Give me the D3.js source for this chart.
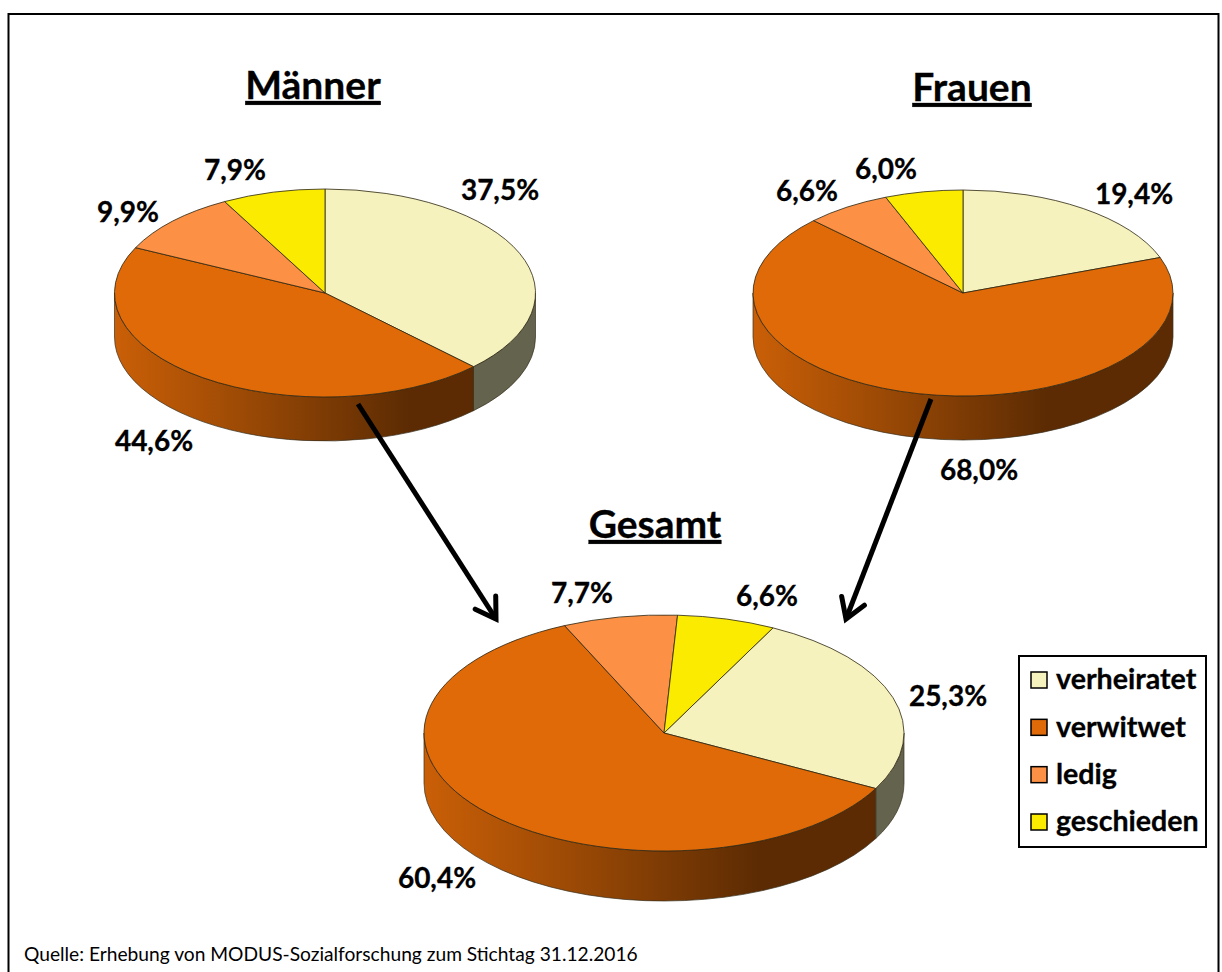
<!DOCTYPE html>
<html><head><meta charset="utf-8">
<script src="https://cdn.jsdelivr.net/npm/d3@7"></script>
<style>
html,body{margin:0;padding:0;background:#fff;overflow:hidden}
svg{display:block}
text{font-family:Lato,"Open Sans",sans-serif;fill:#000}
</style></head><body>
<script>
const categories = ["verheiratet","verwitwet","ledig","geschieden"];
const colours = ["#F5F2BE","#E06A08","#FC9145","#FAEB00"];
const maenner = [37.5,44.6,9.9,7.9];
const frauen = [19.4,68.0,6.6,6.0];
const gesamt = [25.3,60.4,7.7,6.6];
const titles = ["Männer","Frauen","Gesamt"];
const source = "Quelle: Erhebung von MODUS-Sozialforschung zum Stichtag 31.12.2016";

const W=1222,H=972;
const layout = [
 {values:maenner,title:titles[0],cx:325,cy:293,rx:210.5,ry:104,d:44,rot:0,tx:313,ty:99,
  lab:[[500,190],[154,441],[128,212],[235,170]]},
 {values:frauen,title:titles[1],cx:963,cy:293,rx:210,ry:103,d:44,rot:0,tx:972,ty:101,
  lab:[[1134,194],[979,470],[807,191],[886,169]]},
 {values:gesamt,title:titles[2],cx:664,cy:733,rx:240,ry:118,d:50,rot:27,tx:655,ty:538,
  lab:[[948,696],[437,878],[582,593],[767,596]]}
];
const svg=d3.select("body").append("svg").attr("width",W).attr("height",H);
const defs=svg.append("defs");
svg.append("rect").attr("x",8.5).attr("y",14).attr("width",1210).attr("height",H+20)
  .attr("fill","#fff").attr("stroke","#000").attr("stroke-width",2);

const fmt=v=>v.toFixed(1).replace(".",",")+"%";
const shade=(c,f)=>{const r=d3.rgb(c);return d3.rgb(r.r*f,r.g*f,r.b*f).formatHex();};
const rad=Math.PI/180;

layout.forEach((p,pi)=>{
  const pie=d3.pie().sort(null)
    .startAngle(p.rot*rad).endAngle((p.rot+360)*rad)(p.values);
  const g=svg.append("g");
  const px=a=>p.cx+p.rx*Math.sin(a), py=a=>p.cy-p.ry*Math.cos(a);
  // side walls
  pie.forEach((s,i)=>{
    const a0=Math.max(s.startAngle,90*rad), a1=Math.min(s.endAngle,270*rad);
    if(a1<=a0) return;
    const id=`w${pi}_${i}`;
    const lg=defs.append("linearGradient").attr("id",id).attr("gradientUnits","userSpaceOnUse")
      .attr("x1",p.cx-p.rx).attr("x2",p.cx+p.rx).attr("y1",0).attr("y2",0);
    [[0,.9],[.33,.68],[.7,.41],[1,.41]].forEach(([o,f])=>lg.append("stop")
      .attr("offset",o).attr("stop-color",shade(colours[i],f)));
    const dStr=`M${px(a0)},${py(a0)}A${p.rx},${p.ry} 0 0 1 ${px(a1)},${py(a1)}`+
      `L${px(a1)},${py(a1)+p.d}A${p.rx},${p.ry} 0 0 0 ${px(a0)},${py(a0)+p.d}Z`;
    g.append("path").attr("d",dStr).attr("fill",`url(#${id})`)
      .attr("stroke","#3a3020").attr("stroke-width",.7);
  });
  // top faces
  const arc=d3.arc().innerRadius(0).outerRadius(p.rx);
  g.append("g").attr("transform",`translate(${p.cx},${p.cy}) scale(1,${p.ry/p.rx})`)
    .selectAll("path").data(pie).join("path")
    .attr("d",arc).attr("fill",(d,i)=>colours[i])
    .attr("stroke","#2b2410").attr("stroke-width",.8)
    .attr("vector-effect","non-scaling-stroke");
  // value labels
  g.selectAll("text.v").data(p.values).join("text").attr("class","v")
    .attr("x",(d,i)=>p.lab[i][0]).attr("y",(d,i)=>p.lab[i][1])
    .attr("dy","0.35em").attr("text-anchor","middle")
    .attr("font-size",28).attr("font-weight",700)
    .attr("stroke","#000").attr("stroke-width",.3).text(fmt);
  g.append("text").attr("x",p.tx).attr("y",p.ty).attr("text-anchor","middle")
    .attr("font-size",39).attr("font-weight",700)
    .attr("stroke","#000").attr("stroke-width",.3)
    .attr("text-decoration","underline").text(p.title);
});

// arrows
const arrows=[[358,404,496,619],[931,399,846,619]];
arrows.forEach(([x1,y1,x2,y2])=>{
  const ang=Math.atan2(y2-y1,x2-x1), L=23, sp=32*rad;
  const line=d3.line();
  const g=svg.append("g").attr("fill","none").attr("stroke","#000").attr("stroke-width",5);
  g.append("path").attr("d",line([[x1,y1],[x2,y2]]));
  g.append("path").attr("stroke-linecap","round").attr("d",line([
    [x2-L*Math.cos(ang-sp),y2-L*Math.sin(ang-sp)],[x2,y2],
    [x2-L*Math.cos(ang+sp),y2-L*Math.sin(ang+sp)]]));
});

// legend
const leg=svg.append("g");
leg.append("rect").attr("x",1019).attr("y",656).attr("width",187).attr("height",191)
  .attr("fill","#fff").attr("stroke","#000").attr("stroke-width",2);
const ly=d3.scalePoint().domain(categories).range([680,822]);
const rows=leg.selectAll("g").data(categories).join("g")
  .attr("transform",d=>`translate(0,${ly(d)})`);
rows.append("rect").attr("x",1031).attr("y",-8).attr("width",16).attr("height",16)
  .attr("fill",(d,i)=>colours[i]).attr("stroke","#000").attr("stroke-width",1.5);
rows.append("text").attr("x",1056).attr("dy","0.33em").attr("font-size",28.6)
  .attr("font-weight",700).attr("stroke","#000").attr("stroke-width",.3).text(d=>d);

svg.append("text").attr("x",24).attr("y",961).attr("font-size",19.2).text(source);
</script></body></html>
